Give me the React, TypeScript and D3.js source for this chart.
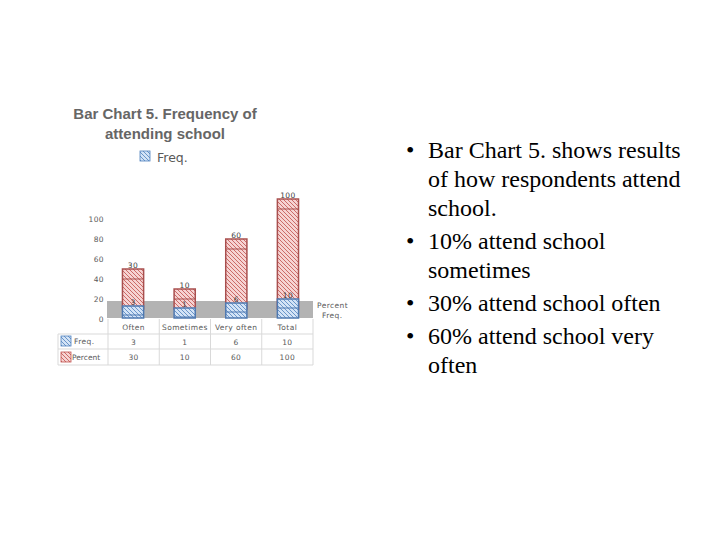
import React from "react";
import { scaleBand, scaleLinear } from "d3";

const categories = ["Often", "Sometimes", "Very often", "Total"];
const freq = [3, 1, 6, 10];
const percent = [30, 10, 60, 100];
const yTicks = [0, 20, 40, 60, 80, 100];
const titleLines = ["Bar Chart 5. Frequency of", "attending school"];
const bullets = [
    ["Bar Chart 5. shows results", "of how respondents attend", "school."],
    ["10% attend school", "sometimes"],
    ["30% attend school often"],
    ["60% attend school very", "often"],
];

const small = { fontFamily: "DejaVu Sans", fontSize: 7.5, fill: "#595959", letterSpacing: 0.4 };

export default function App(): JSX.Element {
    const cols = scaleBand<string>().domain(categories).range([108, 313]);
    const bars = scaleBand<string>().domain(categories).range([108, 313]).paddingInner(0.59).paddingOuter(0.28);
    const y = scaleLinear().domain([0, 100]).range([319, 219]);
    const bw = bars.bandwidth();
    const base = y(0);

    // table rows
    const rowTop = [319, 334, 349, 365];

    let lineY = 158;
    const bulletItems: JSX.Element[] = [];
    bullets.forEach((b, i) => {
        if (i > 0) lineY += 4;
        bulletItems.push(
            <text key={"b" + i} x={406} y={lineY} fontSize={24}>•</text>
        );
        b.forEach((l, j) => {
            bulletItems.push(
                <text key={i + "-" + j} x={428} y={lineY} fontSize={24}>{l}</text>
            );
            lineY += 29;
        });
    });

    return (
        <svg width={720} height={540} style={{ position: "absolute", left: 0, top: 0, background: "#fff" }}>
            <defs>
                <pattern id="hatchRed" patternUnits="userSpaceOnUse" width={4} height={4}>
                    <rect width={4} height={4} fill="#f6d3d2" />
                    <path d="M-1,-1 L5,5 M-1,3 L1,5 M3,-1 L5,1" stroke="#c0504d" strokeWidth={0.8} />
                </pattern>
                <pattern id="hatchBlue" patternUnits="userSpaceOnUse" width={4} height={4}>
                    <rect width={4} height={4} fill="#d3e3f6" />
                    <path d="M-1,-1 L5,5 M-1,3 L1,5 M3,-1 L5,1" stroke="#4f81bd" strokeWidth={0.8} />
                </pattern>
            </defs>

            {/* title + legend */}
            {titleLines.map((t, i) => (
                <text key={t} x={165} y={119 + i * 20} textAnchor="middle" fontFamily="Liberation Sans" fontWeight="bold" fontSize={15} fill="#666666">
                    {t}
                </text>
            ))}
            <rect x={140} y={151} width={10} height={10} fill="url(#hatchBlue)" stroke="#4f81bd" strokeWidth={0.8} />
            <text x={157} y={162} fontFamily="DejaVu Sans" fontSize={12.5} fill="#595959">Freq.</text>

            {/* y axis labels */}
            {yTicks.map((t) => (
                <text key={t} x={104} y={y(t) + 3} textAnchor="end" {...small}>{t}</text>
            ))}

            {/* floor */}
            <rect x={107} y={base - 18} width={206} height={17} fill="#b3b3b3" />

            {/* Percent series (back) */}
            {categories.map((c, i) => {
                const top = y(percent[i]) - 20;
                const x = bars(c) || 0;
                return (
                    <g key={"p" + c}>
                        <rect x={x} y={top} width={bw} height={base - 10 - top} fill="url(#hatchRed)" stroke="#a9504f" strokeWidth={1.5} />
                        <line x1={x} x2={x + bw} y1={top + 10} y2={top + 10} stroke="#a9504f" strokeWidth={1} />
                        <text x={x + bw / 2} y={top - 1.5} textAnchor="middle" {...small} fill="#404040">{percent[i]}</text>
                    </g>
                );
            })}

            {/* Freq series (front) */}
            {categories.map((c, i) => {
                const top = y(freq[i]) - 10;
                const x = bars(c) || 0;
                return (
                    <g key={"f" + c}>
                        <rect x={x} y={top} width={bw} height={base - 1 - top} fill="url(#hatchBlue)" stroke="#4f79b0" strokeWidth={1.5} />
                        <line x1={x} x2={x + bw} y1={top + 9} y2={top + 9} stroke="#4f79b0" strokeWidth={1} />
                        <text x={x + bw / 2} y={top - 1} textAnchor="middle" {...small} fill="#404040">{freq[i]}</text>
                    </g>
                );
            })}

            {/* series labels on the right */}
            <text x={317} y={308} {...small}>Percent</text>
            <text x={322} y={318} {...small}>Freq.</text>

            {/* data table */}
            <g stroke="#d9d9d9" strokeWidth={1}>
                {categories.map((c) => (
                    <line key={"v" + c} x1={cols(c) || 0} x2={cols(c) || 0} y1={rowTop[0]} y2={rowTop[3]} />
                ))}
                <line x1={313} x2={313} y1={rowTop[0]} y2={rowTop[3]} />
                <line x1={58} x2={58} y1={rowTop[1]} y2={rowTop[3]} />
                <line x1={58} x2={313} y1={rowTop[1]} y2={rowTop[1]} />
                <line x1={58} x2={313} y1={rowTop[2]} y2={rowTop[2]} />
                <line x1={58} x2={313} y1={rowTop[3]} y2={rowTop[3]} />
            </g>
            {categories.map((c, i) => {
                const cx = (cols(c) || 0) + cols.bandwidth() / 2;
                return (
                    <g key={"t" + c}>
                        <text x={cx} y={330} textAnchor="middle" {...small}>{c}</text>
                        <text x={cx} y={345} textAnchor="middle" {...small}>{freq[i]}</text>
                        <text x={cx} y={360} textAnchor="middle" {...small}>{percent[i]}</text>
                    </g>
                );
            })}
            <rect x={61} y={336} width={10} height={10} fill="url(#hatchBlue)" stroke="#4f81bd" strokeWidth={0.8} />
            <text x={74} y={344} {...small}>Freq.</text>
            <rect x={61} y={352} width={10} height={10} fill="url(#hatchRed)" stroke="#c0504d" strokeWidth={0.8} />
            <text x={72} y={360} {...small} letterSpacing={0}>Percent</text>

            {/* bullet text */}
            <g fontFamily="Liberation Serif" fill="#000">{bulletItems}</g>
        </svg>
    );
}
